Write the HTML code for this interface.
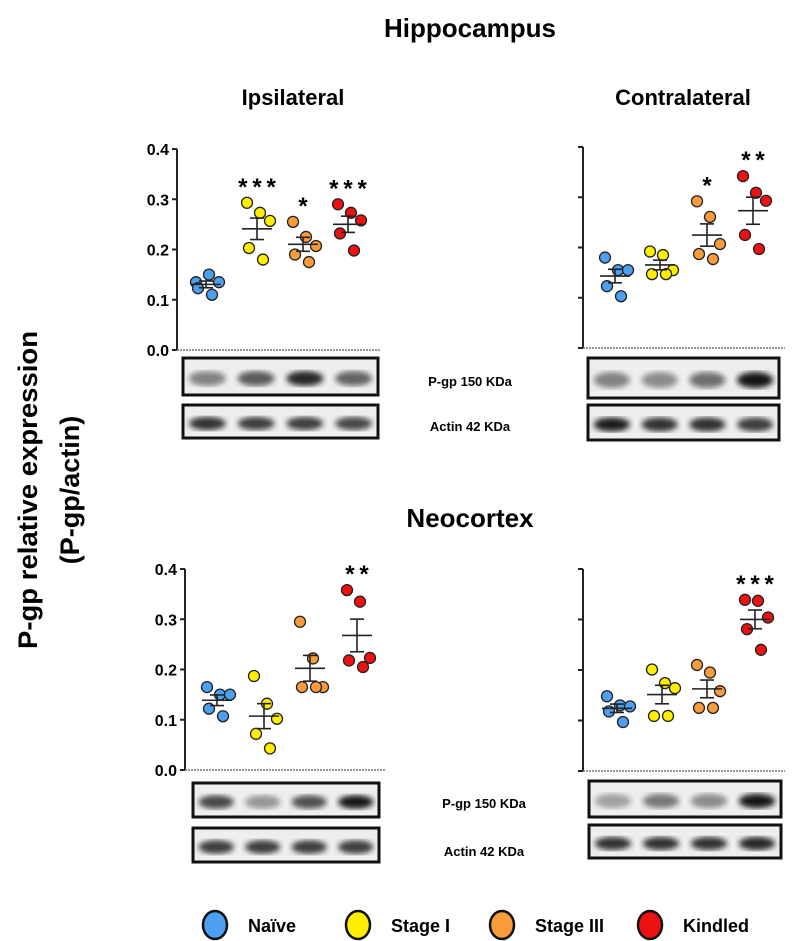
<!DOCTYPE html>
<html><head><meta charset="utf-8"><style>
body{margin:0;background:#fff;}
svg{display:block;font-family:"Liberation Sans",sans-serif;}
</style></head><body>
<svg id="fig" width="793" height="941" viewBox="0 0 793 941">
<defs>
<filter id="blur"><feGaussianBlur stdDeviation="3"/></filter>
</defs>
<text x="470" y="37" font-size="26" font-weight="bold" text-anchor="middle">Hippocampus</text>
<text x="293" y="105" font-size="22" font-weight="bold" text-anchor="middle">Ipsilateral</text>
<text x="683" y="105" font-size="22" font-weight="bold" text-anchor="middle">Contralateral</text>
<text x="470" y="527" font-size="26" font-weight="bold" text-anchor="middle">Neocortex</text>
<g transform="translate(50,490) rotate(-90)">
<text x="0" y="-13" font-size="27" font-weight="bold" text-anchor="middle" textLength="318" lengthAdjust="spacingAndGlyphs">P-gp relative expression</text>
<text x="0" y="29" font-size="27" font-weight="bold" text-anchor="middle">(P-gp/actin)</text>
</g>
<g font-size="13" font-weight="bold" text-anchor="middle">
<text x="470" y="386">P-gp 150 KDa</text>
<text x="470" y="431">Actin 42 KDa</text>
<text x="484" y="808">P-gp 150 KDa</text>
<text x="484" y="856">Actin 42 KDa</text>
</g>
<g id="legend" font-size="18" font-weight="bold"></g>
</svg>
<script>
const groups = ["Naïve","Stage I","Stage III","Kindled"];
const colors = ["#4d9ff0","#ffee00","#f89c3c","#ee1111"];
const ticks = [0.0,0.1,0.2,0.3,0.4];
// panel data (values per group)
const hipIpsi = [[0.135,0.15,0.135,0.123,0.11],[0.293,0.273,0.257,0.203,0.18],[0.255,0.225,0.207,0.19,0.175],[0.29,0.273,0.258,0.232,0.198]];
const hipContra = [[0.18,0.155,0.155,0.123,0.103],[0.192,0.185,0.155,0.147,0.147],[0.292,0.261,0.207,0.187,0.177],[0.342,0.309,0.293,0.225,0.197]];
const neoIpsi = [[0.165,0.15,0.15,0.122,0.107],[0.187,0.132,0.102,0.072,0.043],[0.295,0.222,0.165,0.165,0.165],[0.358,0.335,0.223,0.218,0.205]];
const neoContra = [[0.148,0.13,0.128,0.118,0.097],[0.201,0.174,0.164,0.109,0.109],[0.21,0.195,0.158,0.125,0.125],[0.339,0.337,0.304,0.281,0.24]];
const stars = [["","***","*","***"],["","","*","**"],["","","","**"],["","","","***"]];
const panels = [
 {name:"hippocampus-ipsilateral",data:hipIpsi,ax:177,top:149,bot:350,right:380,cx:[206,257,303,348],labels:true,blot:[183,378,358,395,405,438],dens:[0.45,0.65,0.9,0.6],act:[0.85,0.8,0.8,0.75]},
 {name:"hippocampus-contralateral",data:hipContra,ax:583,top:147,bot:348,right:785,cx:[615,660,707,753],labels:false,blot:[588,779,358,398,405,440],dens:[0.45,0.4,0.55,1],act:[0.95,0.85,0.85,0.8]},
 {name:"neocortex-ipsilateral",data:neoIpsi,ax:185,top:569,bot:770,right:385,cx:[217,264,310,357],labels:true,blot:[193,379,783,817,828,862],dens:[0.75,0.35,0.7,1],act:[0.8,0.8,0.8,0.8]},
 {name:"neocortex-contralateral",data:neoContra,ax:583,top:569,bot:771,right:785,cx:[617,662,707,755],labels:false,blot:[589,781,781,817,825,858],dens:[0.3,0.5,0.4,1],act:[0.85,0.85,0.85,0.9]}
];
const jitter=[-10,3,13,-8,6];
const NS="http://www.w3.org/2000/svg";
const svg=document.getElementById('fig');
function mk(tag,attrs,parent){const e=document.createElementNS(NS,tag);for(const k in attrs)e.setAttribute(k,attrs[k]);(parent||svg).appendChild(e);return e;}
panels.forEach((p,pi)=>{
 const g=mk('g',{});
 
 
 const y=v=>p.bot-(v/0.4)*(p.bot-p.top);
 const ax=mk('line',{x1:p.ax,y1:p.top,x2:p.ax,y2:p.bot,stroke:'#222','stroke-width':2},g);
 
 
 const xa=mk('line',{x1:p.ax,y1:p.bot,x2:p.right,y2:p.bot,stroke:'#777','stroke-width':1.5,'stroke-dasharray':'2,1'},g);
 
 
 ticks.forEach(t=>{
  mk('line',{x1:p.ax-5,y1:y(t),x2:p.ax,y2:y(t),stroke:'#222','stroke-width':2},g);
  if(p.labels){const tx=mk('text',{x:p.ax-8,y:y(t)+6,'font-size':16,'font-weight':'bold','text-anchor':'end'},g);tx.textContent=t.toFixed(1);
   
   }
 });
 p.data.forEach((vals,gi)=>{
  const cx=p.cx[gi];
  const n=vals.length,m=vals.reduce((a,b)=>a+b,0)/n;
  const sd=Math.sqrt(vals.reduce((a,b)=>a+(b-m)*(b-m),0)/(n-1)),se=sd/Math.sqrt(n);
  vals.forEach((v,i)=>{
   const c=mk('circle',{cx:cx+jitter[i],cy:y(v),r:5.5,fill:colors[gi],stroke:'#222','stroke-width':1.3},g);
   
   
  });
  const eb=mk('g',{stroke:'#222','stroke-width':1.6},g);
  
  
  mk('line',{x1:cx-15,y1:y(m),x2:cx+15,y2:y(m)},eb);
  mk('line',{x1:cx,y1:y(m+se),x2:cx,y2:y(m-se)},eb);
  mk('line',{x1:cx-7,y1:y(m+se),x2:cx+7,y2:y(m+se)},eb);
  mk('line',{x1:cx-7,y1:y(m-se),x2:cx+7,y2:y(m-se)},eb);
  const s=stars[pi][gi];
  if(s){const st=mk('text',{x:cx,y:y(Math.max(...vals))-8,'font-size':24,'font-weight':'bold','text-anchor':'middle'},g);
   st.textContent=s.split('').join('\u2009');
   
   }
 });
 // blots
 const [bx1,bx2,py1,py2,ay1,ay2]=p.blot;
 [[py1,py2,p.dens,'pgp-blot'],[ay1,ay2,p.act,'actin-blot']].forEach(([y1,y2,d,nm])=>{
  const bg=mk('g',{},g);
  
  
  mk('rect',{x:bx1,y:y1,width:bx2-bx1,height:y2-y1,fill:'#eeeeee'},bg);
  const lw=(bx2-bx1)/4;
  d.forEach((dv,i)=>{const sh=Math.round(220-dv*200);
   mk('ellipse',{cx:bx1+lw*(i+0.5),cy:(y1+y2)/2+2,rx:lw*0.38,ry:(y2-y1)*0.2,fill:`rgb(${sh},${sh},${sh})`,filter:'url(#blur)'},bg);});
  mk('rect',{x:bx1,y:y1,width:bx2-bx1,height:y2-y1,fill:'none',stroke:'#111','stroke-width':3},bg);
 });
});
const leg=document.getElementById('legend');
const lx=[215,358,502,650];
groups.forEach((gname,i)=>{
 const e=mk('g',{},leg);
 
 
 mk('ellipse',{cx:lx[i],cy:925,rx:12,ry:14,fill:colors[i],stroke:'#111','stroke-width':2.5},e);
 const t=mk('text',{x:lx[i]+33,y:932},e);t.textContent=gname;
});
</script>
</body></html>
